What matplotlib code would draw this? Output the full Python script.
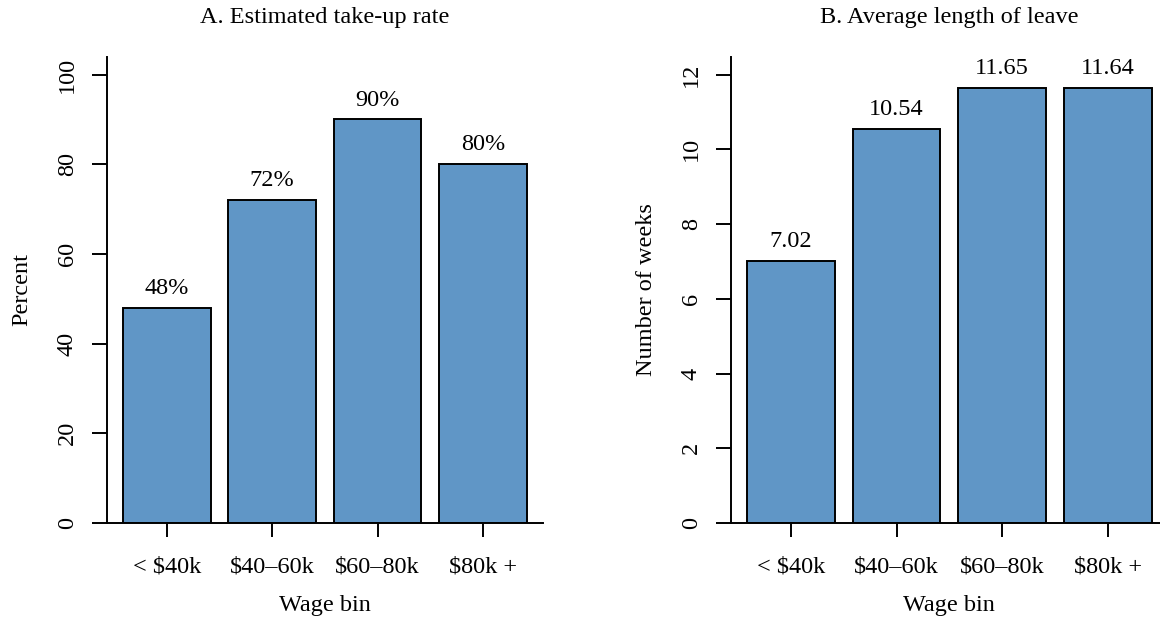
import matplotlib
matplotlib.use("Agg")
from matplotlib import pyplot as plt

# data
wage_bins = [r"< \$40k", r"\$40–60k", r"\$60–80k", r"\$80k +"]
takeup_pct = [48, 72, 90, 80]
leave_weeks = [7.02, 10.54, 11.65, 11.64]
takeup_labels = ["48%", "72%", "90%", "80%"]
leave_labels = ["7.02", "10.54", "11.65", "11.64"]

bar_color = "#6096c6"
fs = 17.5
plt.rcParams["font.family"] = ["Liberation Serif", "DejaVu Serif"]
plt.rcParams["font.size"] = fs


def barPanel(ax, values, labels, ymax, yticks, title, ylabel):
    """R-style barplot: width 1, space 0.2"""
    xs = [0.2 + 1.2 * i + 0.5 for i in range(len(values))]
    ax.bar(xs, values, width=1.0, color=bar_color, edgecolor="black", linewidth=1.4)
    for x, v, lab in zip(xs, values, labels):
        ax.annotate(lab, (x, v), xytext=(0, 14), textcoords="offset points",
                    ha="center", va="center", fontsize=fs)
    ax.set_xlim(0.016, 4.984)
    ax.set_ylim(0, ymax)
    ax.set_xticks(xs)
    ax.set_xticklabels(wage_bins)
    ax.set_yticks(yticks)
    ax.set_yticklabels([str(t) for t in yticks], rotation=90, va="center")
    ax.tick_params(axis="y", length=11, width=1.4, pad=10)
    ax.tick_params(axis="x", length=10, width=1.4, pad=14)
    for s in ["top", "right"]:
        ax.spines[s].set_visible(False)
    for s in ["left", "bottom"]:
        ax.spines[s].set_linewidth(1.4)
    ax.text(0.5, 1.084, title, transform=ax.transAxes, ha="center", va="center", fontsize=fs)
    ax.text(-0.194, 0.5, ylabel, transform=ax.transAxes, ha="center", va="center",
            rotation=90, fontsize=fs)
    ax.text(0.5, -0.176, "Wage bin", transform=ax.transAxes, ha="center", va="center", fontsize=fs)


fig = plt.figure(figsize=(11.6, 6.2), dpi=100)
ax1 = fig.add_axes([0.0921, 0.1565, 0.376, 0.752])
ax2 = fig.add_axes([0.630, 0.1565, 0.3767, 0.752])

barPanel(ax1, takeup_pct, takeup_labels, 104, [0, 20, 40, 60, 80, 100],
         "A. Estimated take-up rate", "Percent")
barPanel(ax2, leave_weeks, leave_labels, 12.48, [0, 2, 4, 6, 8, 10, 12],
         "B. Average length of leave", "Number of weeks")

fig.savefig("out.png", dpi=100)
